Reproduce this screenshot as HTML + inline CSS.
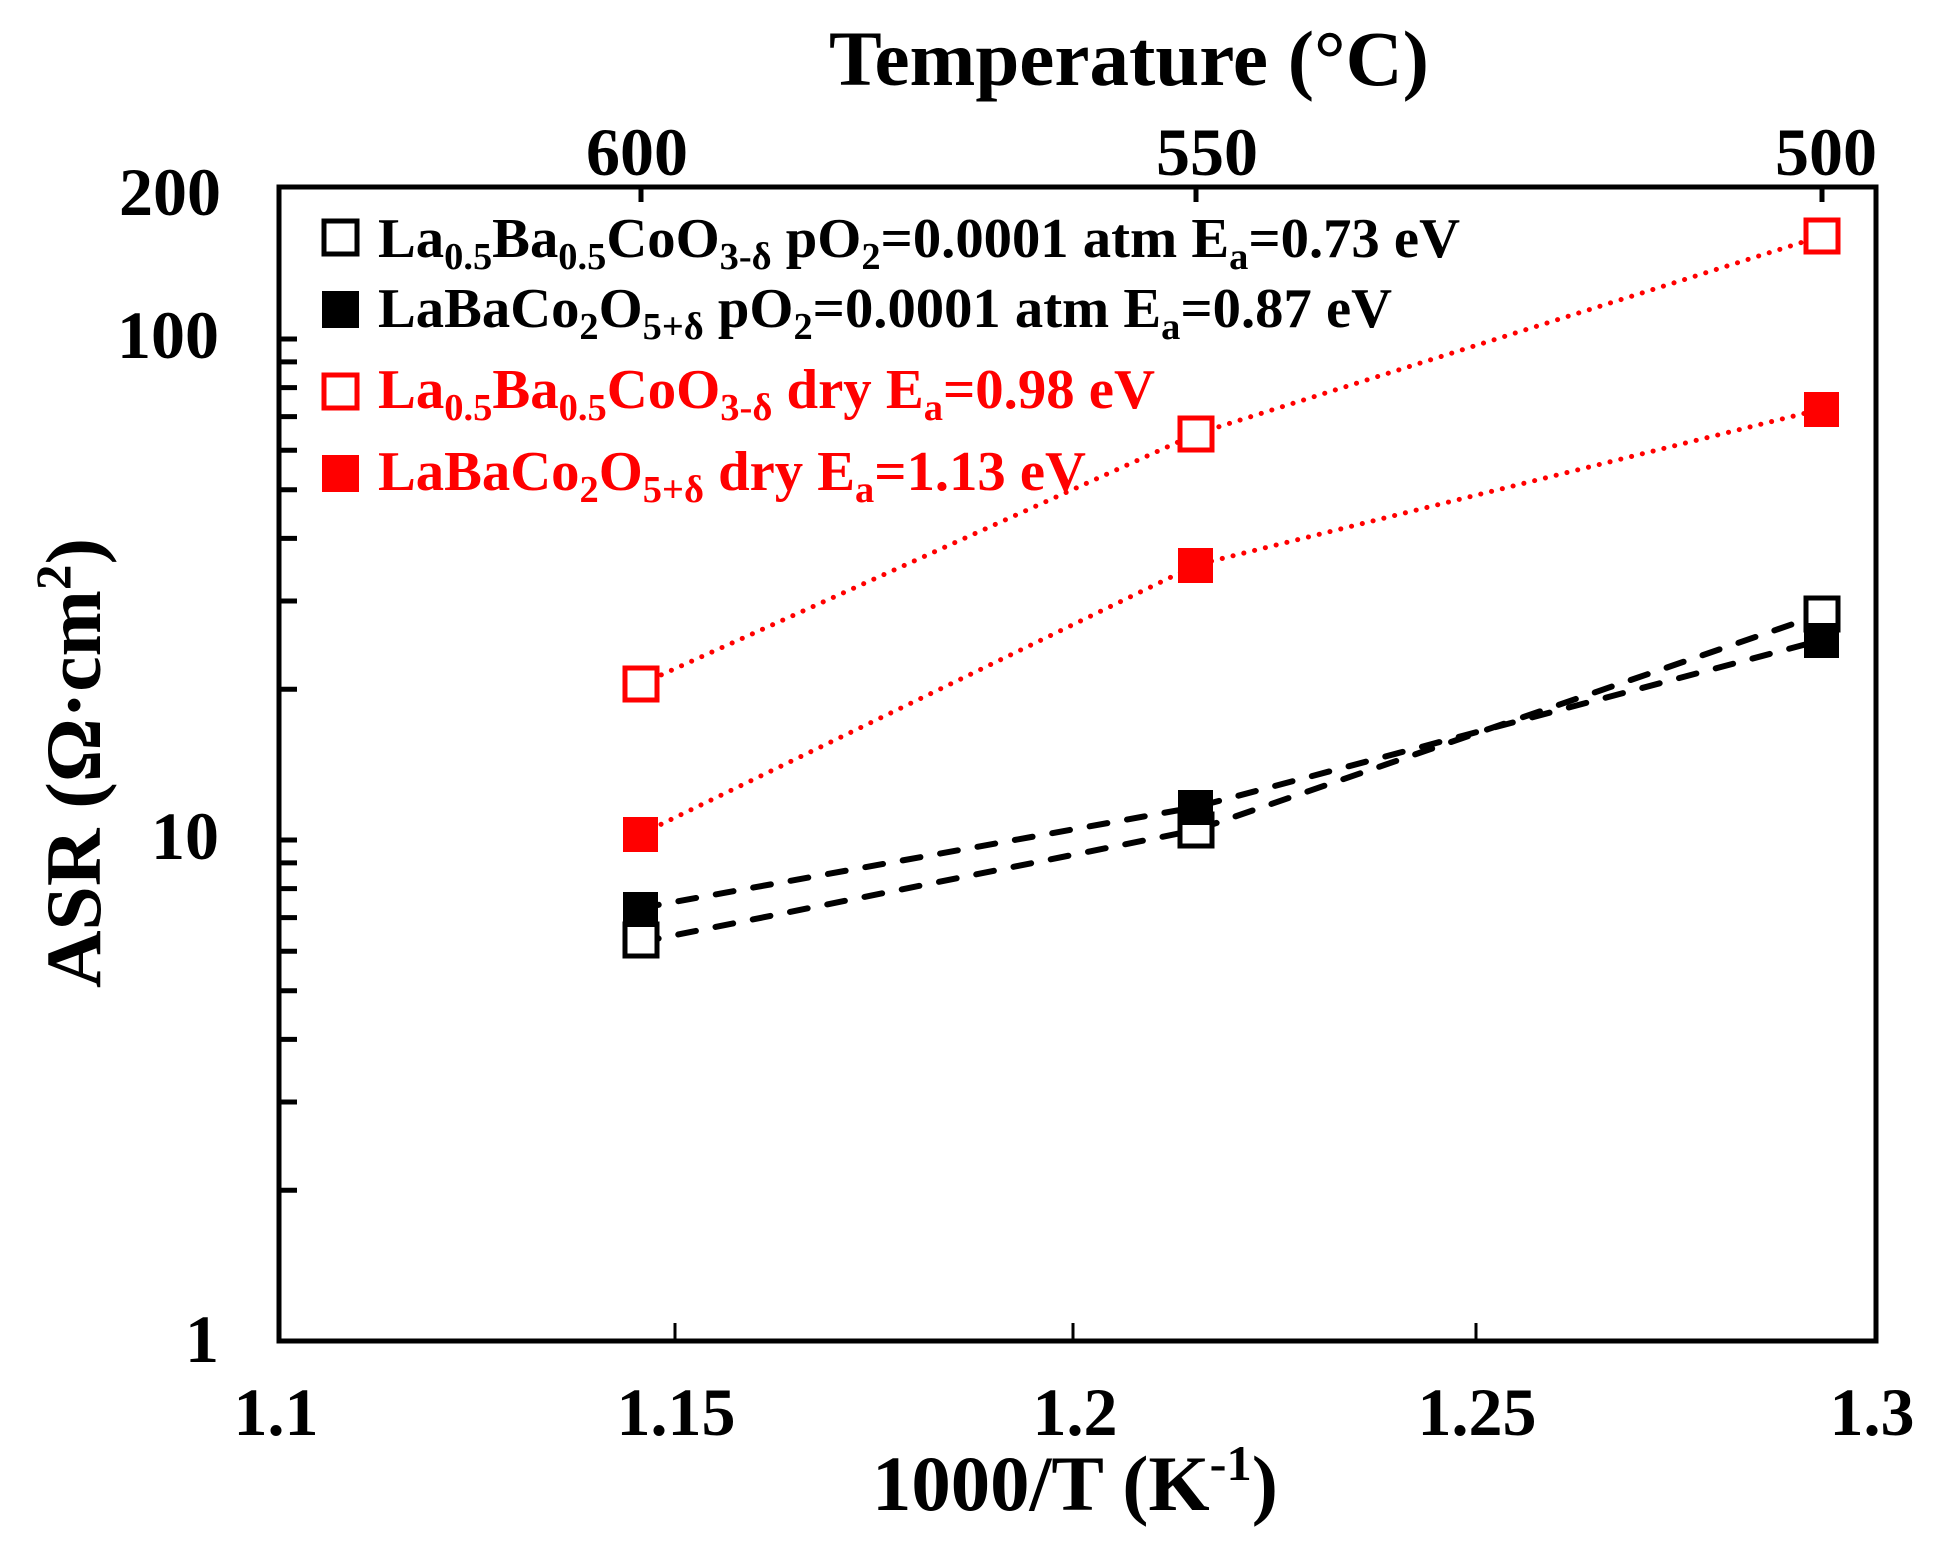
<!DOCTYPE html>
<html><head><meta charset="utf-8"><style>
html,body{margin:0;padding:0;background:#fff;}
svg{display:block;font-family:"Liberation Serif",serif;font-weight:bold;}
</style></head><body>
<svg width="1947" height="1550" viewBox="0 0 1947 1550" xmlns="http://www.w3.org/2000/svg">
<rect width="1947" height="1550" fill="#fff"/>
<!-- frame -->
<rect x="279" y="187" width="1597" height="1154" fill="none" stroke="#000" stroke-width="5"/>
<!-- left ticks -->
<g stroke="#000" stroke-width="5">
<line x1="279" x2="297" y1="1341" y2="1341"/>
<line x1="279" x2="297" y1="1190.2" y2="1190.2"/>
<line x1="279" x2="297" y1="1102" y2="1102"/>
<line x1="279" x2="297" y1="1039.4" y2="1039.4"/>
<line x1="279" x2="297" y1="990.8" y2="990.8"/>
<line x1="279" x2="297" y1="951.2" y2="951.2"/>
<line x1="279" x2="297" y1="917.6" y2="917.6"/>
<line x1="279" x2="297" y1="888.6" y2="888.6"/>
<line x1="279" x2="297" y1="862.9" y2="862.9"/>
<line x1="279" x2="297" y1="840" y2="840"/>
<line x1="279" x2="297" y1="689.2" y2="689.2"/>
<line x1="279" x2="297" y1="601" y2="601"/>
<line x1="279" x2="297" y1="538.4" y2="538.4"/>
<line x1="279" x2="297" y1="489.8" y2="489.8"/>
<line x1="279" x2="297" y1="450.2" y2="450.2"/>
<line x1="279" x2="297" y1="416.6" y2="416.6"/>
<line x1="279" x2="297" y1="387.6" y2="387.6"/>
<line x1="279" x2="297" y1="361.9" y2="361.9"/>
<line x1="279" x2="297" y1="339" y2="339"/>
</g>
<!-- top ticks -->
<g stroke="#000" stroke-width="5">
<line x1="641" x2="641" y1="187" y2="202"/>
<line x1="1196" x2="1196" y1="187" y2="202"/>
<line x1="1822" x2="1822" y1="187" y2="202"/>
</g>
<!-- bottom ticks -->
<g stroke="#000" stroke-width="3">
<line x1="675" x2="675" y1="1341" y2="1323"/>
<line x1="1073" x2="1073" y1="1341" y2="1323"/>
<line x1="1476" x2="1476" y1="1341" y2="1323"/>
</g>
<!-- tick labels -->
<g font-size="68" text-anchor="end" fill="#000">
<text x="221" y="215">200</text>
<text x="219" y="358">100</text>
<text x="219" y="859">10</text>
<text x="219" y="1362">1</text>
</g>
<g font-size="68" text-anchor="middle" fill="#000">
<text x="637" y="175">600</text>
<text x="1207" y="175">550</text>
<text x="1826" y="175">500</text>
<text x="276" y="1435">1.1</text>
<text x="676" y="1435">1.15</text>
<text x="1075" y="1435">1.2</text>
<text x="1477" y="1435">1.25</text>
<text x="1872" y="1435">1.3</text>
</g>
<!-- axis titles -->
<text x="829" y="85" font-size="78" textLength="600" lengthAdjust="spacingAndGlyphs">Temperature (°C)</text>
<text x="872" y="1510" font-size="78" textLength="406" lengthAdjust="spacingAndGlyphs">1000/T (K<tspan font-size="50" dy="-30">-1</tspan><tspan dy="30">)</tspan></text>
<text transform="translate(100,988) rotate(-90)" font-size="78" textLength="450" lengthAdjust="spacingAndGlyphs">ASR (Ω·cm<tspan font-size="50" dy="-30">2</tspan><tspan dy="30">)</tspan></text>
<!-- lines -->
<g fill="none" stroke-linecap="round">
<polyline points="641,684 1196,434 1822,236" stroke="#f00" stroke-width="5" stroke-dasharray="0.1 11"/>
<polyline points="641,834 1196,565 1822,409" stroke="#f00" stroke-width="5" stroke-dasharray="0.1 11"/>
<polyline points="641,942 1196,830 1822,614" stroke="#000" stroke-width="6" stroke-dasharray="18 20"/>
<polyline points="641,908 1196,807 1822,640" stroke="#000" stroke-width="6" stroke-dasharray="18 20"/>
</g>
<!-- markers -->
<g>
<rect x="625" y="924" width="32" height="32" fill="#fff" stroke="#000" stroke-width="5"/>
<rect x="1180" y="814" width="32" height="32" fill="#fff" stroke="#000" stroke-width="5"/>
<rect x="1806" y="598" width="32" height="32" fill="#fff" stroke="#000" stroke-width="5"/>
<rect x="623" y="892" width="35" height="35" fill="#000"/>
<rect x="1178" y="790" width="35" height="35" fill="#000"/>
<rect x="1804" y="623" width="35" height="35" fill="#000"/>
<rect x="625" y="668" width="32" height="32" fill="#fff" stroke="#f00" stroke-width="5"/>
<rect x="1180" y="418" width="32" height="32" fill="#fff" stroke="#f00" stroke-width="5"/>
<rect x="1806" y="220" width="32" height="32" fill="#fff" stroke="#f00" stroke-width="5"/>
<rect x="623" y="817" width="35" height="35" fill="#f00"/>
<rect x="1178" y="548" width="35" height="35" fill="#f00"/>
<rect x="1804" y="392" width="35" height="35" fill="#f00"/>
</g>
<!-- legend -->
<rect x="324" y="221" width="33" height="33" fill="#fff" stroke="#000" stroke-width="5"/>
<rect x="322" y="291" width="37" height="37" fill="#000"/>
<rect x="324" y="375" width="33" height="33" fill="#fff" stroke="#f00" stroke-width="5"/>
<rect x="322" y="455" width="37" height="37" fill="#f00"/>
<g font-size="56">
<text x="378" y="257" fill="#000" textLength="1082" lengthAdjust="spacingAndGlyphs">La<tspan font-size="38" dy="12">0.5</tspan><tspan dy="-12">Ba</tspan><tspan font-size="38" dy="12">0.5</tspan><tspan dy="-12">CoO</tspan><tspan font-size="38" dy="12">3-δ</tspan><tspan dy="-12"> pO</tspan><tspan font-size="38" dy="12">2</tspan><tspan dy="-12">=0.0001 atm E</tspan><tspan font-size="38" dy="12">a</tspan><tspan dy="-12">=0.73 eV</tspan></text>
<text x="378" y="327" fill="#000" textLength="1014" lengthAdjust="spacingAndGlyphs">LaBaCo<tspan font-size="38" dy="12">2</tspan><tspan dy="-12">O</tspan><tspan font-size="38" dy="12">5+δ</tspan><tspan dy="-12"> pO</tspan><tspan font-size="38" dy="12">2</tspan><tspan dy="-12">=0.0001 atm E</tspan><tspan font-size="38" dy="12">a</tspan><tspan dy="-12">=0.87 eV</tspan></text>
<text x="378" y="408" fill="#f00" textLength="777" lengthAdjust="spacingAndGlyphs">La<tspan font-size="38" dy="12">0.5</tspan><tspan dy="-12">Ba</tspan><tspan font-size="38" dy="12">0.5</tspan><tspan dy="-12">CoO</tspan><tspan font-size="38" dy="12">3-δ</tspan><tspan dy="-12"> dry E</tspan><tspan font-size="38" dy="12">a</tspan><tspan dy="-12">=0.98 eV</tspan></text>
<text x="378" y="490" fill="#f00" textLength="708" lengthAdjust="spacingAndGlyphs">LaBaCo<tspan font-size="38" dy="12">2</tspan><tspan dy="-12">O</tspan><tspan font-size="38" dy="12">5+δ</tspan><tspan dy="-12"> dry E</tspan><tspan font-size="38" dy="12">a</tspan><tspan dy="-12">=1.13 eV</tspan></text>
</g>
</svg>
</body></html>
